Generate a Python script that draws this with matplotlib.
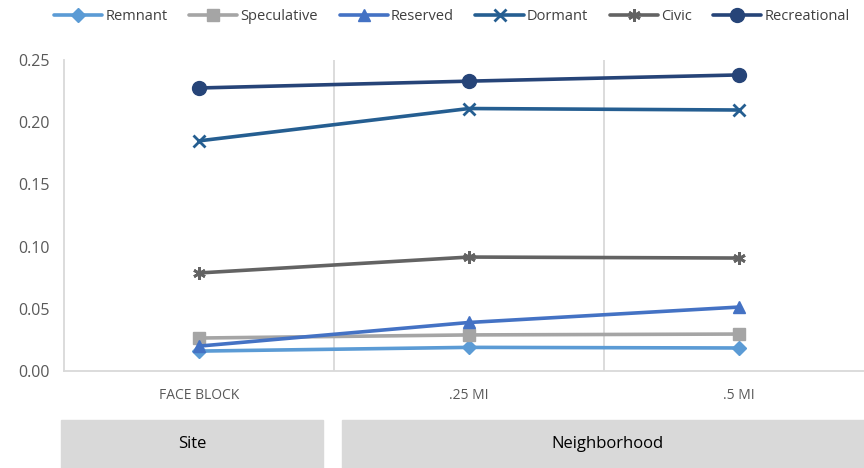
import matplotlib.pyplot as plt
from matplotlib.patches import Rectangle

plt.rcParams["font.family"] = ["Open Sans", "DejaVu Sans"]

categories = ["FACE BLOCK", ".25 MI", ".5 MI"]
series_names = ["Remnant", "Speculative", "Reserved", "Dormant", "Civic", "Recreational"]
remnant = [0.016, 0.019, 0.0185]
speculative = [0.0265, 0.029, 0.0297]
reserved = [0.020, 0.039, 0.0514]
dormant = [0.185, 0.211, 0.2098]
civic = [0.0788, 0.0916, 0.0908]
recreational = [0.2275, 0.233, 0.238]
groups = ["Site", "Neighborhood"]

colors = ["#5B9BD5", "#A5A5A5", "#4472C4", "#255E91", "#636363", "#264478"]
markers = ["D", "s", "^", "x", (6, 2, 0), "o"]
msizes = [7, 9, 9, 8, 9, 10]

fig = plt.figure(figsize=(8.64, 4.68), dpi=100)
ax = fig.add_axes([64 / 864, 1 - 371 / 468, 810 / 864, 311 / 468])

x = range(len(categories))
values = [remnant, speculative, reserved, dormant, civic, recreational]
for name, vals, c, m, ms in zip(series_names, values, colors, markers, msizes):
    thin = m == "x" or isinstance(m, tuple)
    ax.plot(x, vals, color=c, lw=2.6, marker=m, ms=ms, mew=2 if thin else 1,
            mec=c, mfc=c, label=name, solid_capstyle="round")

ax.set_xlim(-0.5, 2.5)
ax.set_ylim(0, 0.25)
ax.set_yticks([0, 0.05, 0.10, 0.15, 0.20, 0.25])
ax.set_yticklabels([f"{v:.2f}" for v in ax.get_yticks()], color="#595959", fontsize=11.5)
ax.set_xticks(list(x))
ax.set_xticklabels(categories, color="#595959", fontsize=10)
ax.tick_params(length=0, axis="y", pad=10)
ax.tick_params(length=0, axis="x", pad=12)

for s in ("top", "right"):
    ax.spines[s].set_visible(False)
for s in ("left", "bottom"):
    ax.spines[s].set_color("#D9D9D9")
    ax.spines[s].set_linewidth(1.3)
for xv in (0.5, 1.5):
    ax.axvline(xv, color="#D9D9D9", lw=1.3, zorder=0)

fig.legend(loc="center", bbox_to_anchor=(0.523, 1 - 17 / 468), ncol=6, frameon=False,
           fontsize=10.5, handlelength=3.3, handletextpad=0.2, columnspacing=1.5,
           labelcolor="#404040")

# grouping boxes under the category axis
box_h = 48 / 468
for (x0, x1), label, cx in zip([(61, 323), (342, 870)], groups, [192, 607]):
    fig.patches.append(Rectangle((x0 / 864, 0), (x1 - x0) / 864, box_h,
                                 transform=fig.transFigure, color="#D9D9D9", zorder=0))
    fig.text(cx / 864, box_h / 2, label, ha="center", va="center", fontsize=12, color="#000000")

fig.savefig("out.png", dpi=100)
